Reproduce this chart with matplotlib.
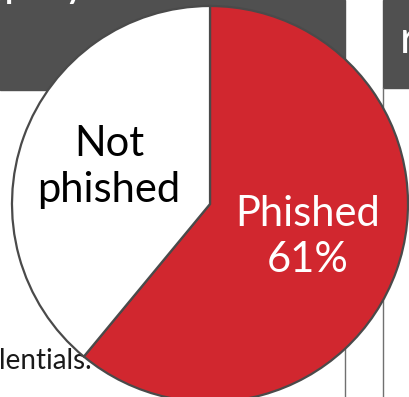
import matplotlib
matplotlib.use("Agg")
import matplotlib.pyplot as plt
from matplotlib.patches import Rectangle

# data
labels = ["Phished\n61%", "Not\nphished"]
values = [61, 39]
colors = ["#d1272f", "#ffffff"]
text_colors = ["white", "black"]

plt.rcParams['font.family'] = ['Lato', 'DejaVu Sans']

W, H = 410, 397
fig = plt.figure(figsize=(W / 100, H / 100), dpi=100)
ax = fig.add_axes([0, 0, 1, 1])

# page behind the chart (slide screenshot)
ax.add_patch(Rectangle((0, H - 90), 345, 90, color="#505050", zorder=0))
ax.add_patch(Rectangle((383, H - 88), 30, 88, color="#505050", zorder=0))
ax.plot([345, 345], [0, H - 90], color="#707070", lw=1, zorder=0)
ax.plot([383, 383], [0, H - 88], color="#707070", lw=1, zorder=0)
ax.text(400, H - 53, "r", color="white", fontsize=32, zorder=1, va="baseline")
ax.text(4, H + 4, "p", color="white", fontsize=32, zorder=1, va="baseline")
ax.text(64, H + 4, "y", color="white", fontsize=32, zorder=1, va="baseline")
ax.text(-1, H - 369, "lentials.", color="#1a1a1a", fontsize=20, zorder=1,
        va="baseline")

wedges, texts = ax.pie(values, colors=colors, startangle=90, counterclock=False,
                       center=(210, H - 204), radius=198, frame=True,
                       wedgeprops=dict(edgecolor="#4a4a4a", linewidth=1.6))
for w in wedges:
    w.set_zorder(2)
ax.set_xlim(0, W)
ax.set_ylim(0, H)
ax.axis("off")

ax.text(308, H - 237, labels[0], color=text_colors[0], fontsize=30,
        ha="center", va="center", linespacing=1.25, zorder=3)
ax.text(109, H - 167, labels[1], color=text_colors[1], fontsize=30,
        ha="center", va="center", linespacing=1.25, zorder=3)

fig.savefig("out.png", dpi=100)
